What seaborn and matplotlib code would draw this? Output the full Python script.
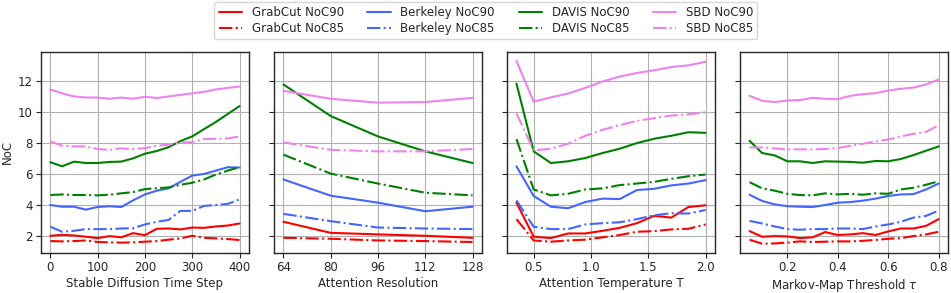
import numpy as np
import pandas as pd
import matplotlib
matplotlib.use("Agg")
import matplotlib.pyplot as plt
import seaborn as sns

# ---- data ----
timestep = [0, 25, 50, 75, 100, 125, 150, 175, 200, 225, 250, 275, 300, 325, 350, 375, 400]
ts_grabcut90 = [2.04, 2.10, 2.06, 1.98, 1.89, 2.02, 1.94, 2.21, 2.08, 2.49, 2.51, 2.45, 2.57, 2.55, 2.64, 2.70, 2.83]
ts_grabcut85 = [1.70, 1.68, 1.70, 1.74, 1.64, 1.62, 1.60, 1.62, 1.66, 1.70, 1.79, 1.87, 2.04, 1.91, 1.87, 1.83, 1.77]
ts_berkeley90 = [4.02, 3.91, 3.91, 3.72, 3.89, 3.94, 3.89, 4.32, 4.70, 4.94, 5.09, 5.51, 5.91, 6.02, 6.23, 6.45, 6.43]
ts_berkeley85 = [2.62, 2.30, 2.36, 2.47, 2.47, 2.47, 2.51, 2.53, 2.77, 2.94, 3.06, 3.64, 3.64, 3.96, 4.02, 4.09, 4.38]
ts_davis90 = [6.77, 6.51, 6.81, 6.72, 6.72, 6.79, 6.81, 7.02, 7.32, 7.49, 7.74, 8.13, 8.43, 8.90, 9.36, 9.87, 10.38]
ts_davis85 = [4.66, 4.70, 4.66, 4.66, 4.64, 4.68, 4.77, 4.85, 5.04, 5.10, 5.15, 5.32, 5.45, 5.66, 5.98, 6.23, 6.45]
ts_sbd90 = [11.45, 11.20, 11.00, 10.93, 10.93, 10.85, 10.93, 10.85, 10.98, 10.90, 11.00, 11.10, 11.20, 11.30, 11.45, 11.55, 11.64]
ts_sbd85 = [8.10, 7.83, 7.79, 7.79, 7.62, 7.57, 7.66, 7.62, 7.68, 7.83, 7.90, 8.04, 8.06, 8.26, 8.28, 8.30, 8.43]

resolution = [64, 80, 96, 112, 128]
res_grabcut90 = [2.94, 2.23, 2.13, 2.04, 1.91]
res_grabcut85 = [1.91, 1.85, 1.74, 1.70, 1.64]
res_berkeley90 = [5.66, 4.62, 4.17, 3.62, 3.91]
res_berkeley85 = [3.45, 2.98, 2.57, 2.51, 2.47]
res_davis90 = [11.77, 9.74, 8.43, 7.47, 6.72]
res_davis85 = [7.26, 6.04, 5.40, 4.81, 4.64]
res_sbd90 = [11.36, 10.85, 10.60, 10.64, 10.91]
res_sbd85 = [8.04, 7.57, 7.47, 7.47, 7.62]

temperature = [0.35, 0.5, 0.65, 0.8, 0.95, 1.1, 1.25, 1.4, 1.55, 1.7, 1.85, 2.0]
tmp_grabcut90 = [4.17, 1.98, 1.89, 2.19, 2.19, 2.36, 2.55, 2.85, 3.32, 3.21, 3.89, 4.00]
tmp_grabcut85 = [3.11, 1.74, 1.66, 1.74, 1.79, 1.94, 2.09, 2.30, 2.34, 2.45, 2.49, 2.77]
tmp_berkeley90 = [6.51, 4.60, 3.91, 3.81, 4.21, 4.43, 4.40, 4.98, 5.06, 5.28, 5.40, 5.62]
tmp_berkeley85 = [4.32, 2.62, 2.47, 2.47, 2.77, 2.85, 2.91, 3.11, 3.36, 3.49, 3.47, 3.70]
tmp_davis90 = [11.83, 7.47, 6.72, 6.83, 7.04, 7.36, 7.64, 8.00, 8.28, 8.47, 8.70, 8.66]
tmp_davis85 = [8.26, 5.02, 4.64, 4.74, 5.02, 5.09, 5.30, 5.40, 5.51, 5.70, 5.87, 5.98]
tmp_sbd90 = [13.28, 10.66, 10.94, 11.19, 11.55, 11.96, 12.28, 12.51, 12.68, 12.89, 13.00, 13.23]
tmp_sbd85 = [9.91, 7.53, 7.64, 7.96, 8.47, 8.85, 9.15, 9.43, 9.60, 9.77, 9.85, 9.98]

threshold = [0.05, 0.1, 0.15, 0.2, 0.25, 0.3, 0.35, 0.4, 0.45, 0.5, 0.55, 0.6, 0.65, 0.7, 0.75, 0.8]
thr_grabcut90 = [2.34, 1.98, 2.02, 2.00, 1.89, 1.94, 2.28, 2.09, 2.13, 2.21, 2.09, 2.32, 2.51, 2.51, 2.68, 3.11]
thr_grabcut85 = [1.79, 1.53, 1.55, 1.60, 1.68, 1.64, 1.66, 1.68, 1.68, 1.72, 1.77, 1.85, 1.89, 2.02, 2.13, 2.30]
thr_berkeley90 = [4.68, 4.28, 4.06, 3.94, 3.91, 3.89, 4.02, 4.17, 4.21, 4.30, 4.43, 4.60, 4.70, 4.72, 5.02, 5.40]
thr_berkeley85 = [3.00, 2.83, 2.64, 2.47, 2.43, 2.47, 2.47, 2.51, 2.51, 2.47, 2.64, 2.77, 2.94, 3.21, 3.32, 3.66]
thr_davis90 = [8.15, 7.36, 7.21, 6.83, 6.83, 6.72, 6.83, 6.81, 6.79, 6.74, 6.85, 6.83, 6.98, 7.23, 7.51, 7.79]
thr_davis85 = [5.49, 5.09, 4.94, 4.74, 4.66, 4.64, 4.77, 4.70, 4.74, 4.68, 4.77, 4.74, 5.02, 5.13, 5.32, 5.55]
thr_sbd90 = [11.04, 10.72, 10.64, 10.74, 10.77, 10.91, 10.85, 10.83, 11.04, 11.15, 11.21, 11.38, 11.49, 11.57, 11.77, 12.09]
thr_sbd85 = [7.72, 7.72, 7.66, 7.60, 7.60, 7.60, 7.62, 7.68, 7.83, 7.96, 8.11, 8.23, 8.43, 8.60, 8.72, 9.15]

datasets = ["GrabCut", "Berkeley", "DAVIS", "SBD"]
colors = {"GrabCut": "red", "Berkeley": "#4466ff", "DAVIS": "green", "SBD": "violet"}

panels = [
    ("Stable Diffusion Time Step", timestep,
     [ts_grabcut90, ts_berkeley90, ts_davis90, ts_sbd90],
     [ts_grabcut85, ts_berkeley85, ts_davis85, ts_sbd85]),
    ("Attention Resolution", resolution,
     [res_grabcut90, res_berkeley90, res_davis90, res_sbd90],
     [res_grabcut85, res_berkeley85, res_davis85, res_sbd85]),
    ("Attention Temperature T", temperature,
     [tmp_grabcut90, tmp_berkeley90, tmp_davis90, tmp_sbd90],
     [tmp_grabcut85, tmp_berkeley85, tmp_davis85, tmp_sbd85]),
    ("Markov-Map Threshold $\\tau$", threshold,
     [thr_grabcut90, thr_berkeley90, thr_davis90, thr_sbd90],
     [thr_grabcut85, thr_berkeley85, thr_davis85, thr_sbd85]),
]

sns.set_style("ticks")
plt.rcParams["font.family"] = ["DejaVu Sans"]
fs = 8.5

fig, axes = plt.subplots(1, 4, figsize=(9.51, 2.93), dpi=100, sharey=True)

for ax, (xlabel, xs, noc90, noc85) in zip(axes, panels):
    for name, y90, y85 in zip(datasets, noc90, noc85):
        sns.lineplot(x=xs, y=y90, ax=ax, color=colors[name], linestyle="-",
                     linewidth=1.5, label=f"{name} NoC90", legend=False)
        sns.lineplot(x=xs, y=y85, ax=ax, color=colors[name], linestyle="-.",
                     linewidth=1.5, label=f"{name} NoC85", legend=False)
    ax.set_xlabel(xlabel, fontsize=fs, labelpad=2)
    ax.grid(True, color="#b0b0b0", linewidth=0.8)
    ax.tick_params(labelsize=fs, length=3.5, pad=2.5)
    for s in ax.spines.values():
        s.set_linewidth(1.0)

axes[0].set_ylabel("NoC", fontsize=fs, labelpad=3)
axes[0].set_yticks([2, 4, 6, 8, 10, 12])
axes[1].set_xticks(resolution)
axes[2].set_xticks([0.5, 1.0, 1.5, 2.0])
axes[3].set_xticks([0.2, 0.4, 0.6, 0.8])

handles, labels = axes[0].get_legend_handles_labels()
fig.legend(handles, labels,
           loc="upper center", ncol=4, fontsize=fs, frameon=True,
           bbox_to_anchor=(0.511, 1.0), columnspacing=2.0,
           borderaxespad=0.2, labelspacing=0.2, borderpad=0.35)

fig.subplots_adjust(left=0.043, right=0.997, top=0.823, bottom=0.137, wspace=0.12)
fig.savefig("out.png", dpi=100)
